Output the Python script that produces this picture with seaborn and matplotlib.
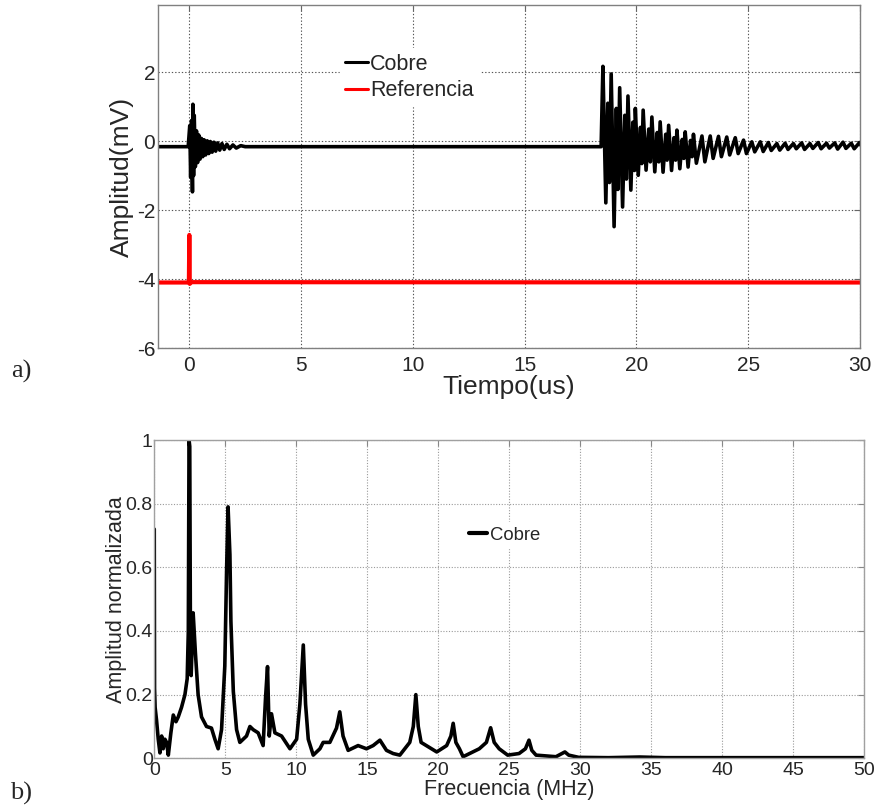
import numpy as np
import pandas as pd
import matplotlib
matplotlib.use("Agg")
import matplotlib.pyplot as plt
import seaborn as sns

# ---------------- a) time-domain signals ----------------
# Quiet baseline of the copper signal
base_t = [-1.4, -0.05]
base_mv = [-0.16, -0.16]

# Entry echo (t ~ 0 us)
echo1_t = [0.02, 0.06, 0.10, 0.14, 0.16, 0.19, 0.22, 0.27, 0.32, 0.37, 0.42, 0.48,
           0.54, 0.60, 0.66, 0.73, 0.80, 0.87, 0.94, 1.02, 1.10, 1.18, 1.27, 1.36,
           1.46, 1.56, 1.68, 1.80, 1.95, 2.10, 2.30, 2.50]
echo1_mv = [0.45, -1.05, 0.60, -1.47, 1.07, -1.00, 0.75, -0.74, 0.30, -0.62, 0.18, -0.52,
            0.08, -0.45, 0.04, -0.40, 0.01, -0.36, -0.01, -0.32, -0.03, -0.29, -0.05, -0.26,
            -0.07, -0.24, -0.09, -0.22, -0.11, -0.20, -0.13, -0.16]

# Baseline between echoes
mid_t = [18.42]
mid_mv = [-0.16]

# Back-wall echo (t ~ 18.5 us): crests and troughs of each cycle
crest_t = [18.50, 18.87, 19.25, 19.62, 19.95, 20.30, 20.69, 21.06, 21.44, 21.81, 22.18,
           22.55, 22.93, 23.30, 23.67, 24.04, 24.42, 24.79, 25.16, 25.54, 25.90, 26.28,
           26.65, 27.02, 27.39, 27.76, 28.13, 28.50, 28.87, 29.24, 29.61, 29.98]
crest_mv = [2.17, 1.95, 1.55, 1.31, 0.95, 0.90, 0.70, 0.56, 0.46, 0.32, 0.27,
            0.20, 0.15, 0.15, 0.14, 0.12, 0.10, 0.03, -0.02, -0.02, -0.04, -0.07,
            -0.06, -0.07, -0.05, -0.07, -0.04, -0.06, -0.05, -0.03, -0.06, -0.04]
trough_t = [18.63, 19.00, 19.38, 19.75, 20.08, 20.43, 20.82, 21.19, 21.57, 21.94, 22.31,
            22.68, 23.06, 23.43, 23.80, 24.17, 24.55, 24.92, 25.29, 25.67, 26.03, 26.41,
            26.78, 27.15, 27.52, 27.89, 28.26, 28.63, 29.00, 29.37, 29.74, 30.11]
trough_mv = [-1.79, -2.48, -1.91, -1.42, -0.99, -0.84, -0.89, -0.90, -0.85, -0.80, -0.75,
             -0.64, -0.60, -0.50, -0.45, -0.40, -0.36, -0.36, -0.31, -0.30, -0.27, -0.26,
             -0.24, -0.22, -0.24, -0.21, -0.22, -0.20, -0.23, -0.21, -0.22, -0.20]
# Secondary ripple riding between trough and next crest
ripple_t = [18.72, 19.10, 19.48, 19.84, 20.18, 20.55, 20.93, 21.31, 21.68, 22.05, 22.42]
ripple_hi = [1.10, 0.95, 0.75, 0.55, 0.40, 0.35, 0.25, 0.20, 0.10, 0.05, 0.02]
ripple_lo_t = [18.79, 19.17, 19.55, 19.91, 20.24, 20.62, 21.00, 21.37, 21.75, 22.12, 22.49]
ripple_lo = [-1.20, -1.40, -1.10, -0.85, -0.65, -0.60, -0.60, -0.55, -0.55, -0.50, -0.45]

# Reference pulse
ref_t = [-1.4, -0.02, 0.00, 0.02, 0.10, 30.0]
ref_mv = [-4.10, -4.10, -2.72, -4.14, -4.09, -4.10]

# ---------------- b) spectrum ----------------
freq_mhz = [0.0, 0.02, 0.06, 0.16, 0.28, 0.40, 0.52, 0.63, 0.75, 0.87, 0.99, 1.17, 1.34,
            1.53, 1.69, 1.92, 2.16, 2.32, 2.40, 2.45, 2.50, 2.55, 2.60, 2.74, 2.90, 3.09,
            3.33, 3.68, 4.03, 4.27, 4.50, 4.74, 4.97, 5.10, 5.20, 5.33, 5.40, 5.57, 5.80,
            6.03, 6.50, 6.74, 6.97, 7.32, 7.67, 7.84, 7.98, 8.10, 8.26, 8.50, 8.97, 9.56,
            10.03, 10.26, 10.50, 10.66, 10.85, 11.20, 11.67, 11.90, 12.37, 12.84, 13.07,
            13.30, 13.66, 14.13, 14.36, 14.95, 15.42, 15.90, 16.36, 16.83, 17.30, 18.00,
            18.25, 18.43, 18.60, 18.80, 19.90, 20.60, 20.90, 21.06, 21.25, 21.50, 21.76,
            22.90, 23.40, 23.70, 23.95, 24.30, 24.90, 25.70, 26.15, 26.40, 26.60, 26.90,
            28.30, 28.93, 29.20, 29.90, 32.0, 34.2, 36.0, 40.0, 45.0, 50.0]
amp_norm = [0.72, 0.22, 0.16, 0.12, 0.06, 0.017, 0.07, 0.03, 0.06, 0.05, 0.01, 0.08, 0.136,
            0.115, 0.13, 0.16, 0.20, 0.25, 0.40, 1.00, 0.98, 0.35, 0.26, 0.457, 0.33, 0.20,
            0.13, 0.10, 0.095, 0.06, 0.03, 0.09, 0.29, 0.60, 0.79, 0.64, 0.43, 0.21, 0.09,
            0.05, 0.07, 0.10, 0.09, 0.08, 0.04, 0.19, 0.288, 0.07, 0.14, 0.08, 0.07, 0.03,
            0.06, 0.17, 0.356, 0.17, 0.06, 0.01, 0.03, 0.05, 0.05, 0.095, 0.146,
            0.07, 0.025, 0.035, 0.04, 0.03, 0.04, 0.057, 0.025, 0.015, 0.01, 0.05,
            0.10, 0.20, 0.10, 0.05, 0.02, 0.04, 0.07, 0.11, 0.05, 0.03, 0.005,
            0.03, 0.05, 0.096, 0.05, 0.03, 0.01, 0.015, 0.03, 0.057, 0.025, 0.01,
            0.005, 0.02, 0.01, 0.003, 0.002, 0.004, 0.002, 0.002, 0.002, 0.002]

# ---------------- assemble the copper trace ----------------
echo2 = list(zip(crest_t, crest_mv)) + list(zip(trough_t, trough_mv)) \
    + list(zip(ripple_t, ripple_hi)) + list(zip(ripple_lo_t, ripple_lo))
echo2.sort()
echo2_t = [p[0] for p in echo2]
echo2_mv = [p[1] for p in echo2]

cobre = pd.DataFrame({
    "t": base_t + echo1_t + mid_t + echo2_t,
    "mv": base_mv + echo1_mv + mid_mv + echo2_mv,
})
referencia = pd.DataFrame({"t": ref_t, "mv": ref_mv})
espectro = pd.DataFrame({"f": freq_mhz, "a": amp_norm})

sns.set_style("white")
plt.rcParams["font.family"] = ["Liberation Sans", "DejaVu Sans"]
plt.rcParams["axes.unicode_minus"] = False

fig = plt.figure(figsize=(8.74, 8.05), dpi=100)
ax1 = fig.add_axes([0.1808, 0.5677, 0.8032, 0.4261])
ax2 = fig.add_axes([0.1765, 0.0580, 0.8120, 0.3954])

# ---- top panel
sns.lineplot(data=cobre, x="t", y="mv", ax=ax1, color="black", lw=2.6,
             estimator=None, sort=False, label="Cobre")
sns.lineplot(data=referencia, x="t", y="mv", ax=ax1, color="#ff0000", lw=3.0,
             estimator=None, sort=False, label="Referencia")
ax1.set_xlim(-1.4, 30)
ax1.set_ylim(-6, 3.95)
ax1.set_xticks([0, 5, 10, 15, 20, 25, 30])
ax1.set_yticks([-6, -4, -2, 0, 2])
ax1.grid(True, linestyle=(0, (1.2, 1.8)), color="#555555", linewidth=0.8)
ax1.set_axisbelow(True)
ax1.tick_params(direction="in", length=4, labelsize=15, top=True, right=True,
                color="#666666", pad=2)
ax1.tick_params(axis="x", pad=6)
ax1.set_xlabel("Tiempo(us)", fontsize=19, labelpad=0)
ax1.set_ylabel("Amplitud(mV)", fontsize=19, labelpad=2)
for s in ax1.spines.values():
    s.set_color("#808080")
    s.set_linewidth(1.0)
leg1 = ax1.legend(loc="center", bbox_to_anchor=(0.358, 0.789), fontsize=15.5,
                  frameon=True, fancybox=False, framealpha=1, handlelength=1.05,
                  handletextpad=0.12, borderpad=0.25, labelspacing=0.25)
leg1.get_frame().set_edgecolor("white")
for h in leg1.get_lines():
    h.set_linewidth(2.2)

# ---- bottom panel
sns.lineplot(data=espectro, x="f", y="a", ax=ax2, color="black", lw=2.6,
             estimator=None, sort=False, label="Cobre")
ax2.set_xlim(0, 50)
ax2.set_ylim(0, 1)
ax2.set_xticks(range(0, 51, 5))
ax2.set_yticks([0, 0.2, 0.4, 0.6, 0.8, 1])
ax2.set_yticklabels(["0", "0.2", "0.4", "0.6", "0.8", "1"])
ax2.grid(True, linestyle=(0, (1, 1.5)), color="#9a9a9a", linewidth=0.8)
ax2.set_axisbelow(True)
ax2.tick_params(direction="in", length=4, labelsize=14, top=True, right=True,
                color="#888888", pad=1)
ax2.tick_params(axis="x", pad=3)
ax2.set_xlabel("Frecuencia (MHz)", fontsize=15.5, labelpad=0)
ax2.set_ylabel("Amplitud normalizada", fontsize=15.5, labelpad=-1)
for s in ax2.spines.values():
    s.set_color("#a0a0a0")
    s.set_linewidth(1.0)
leg2 = ax2.legend(loc="center", bbox_to_anchor=(0.494, 0.7015), fontsize=13.3,
                  frameon=True, fancybox=False, framealpha=1, handlelength=0.95,
                  handletextpad=0.2, borderpad=0.25)
leg2.get_frame().set_edgecolor("white")
for h in leg2.get_lines():
    h.set_linewidth(3.0)

# Panel tags
fig.text(21 / 874, 1 - 371 / 805, "a)", fontsize=19, family="Liberation Serif",
         ha="center", va="center")
fig.text(21 / 874, 1 - 793 / 805, "b)", fontsize=19, family="Liberation Serif",
         ha="center", va="center")

fig.savefig("out.png", dpi=100)
